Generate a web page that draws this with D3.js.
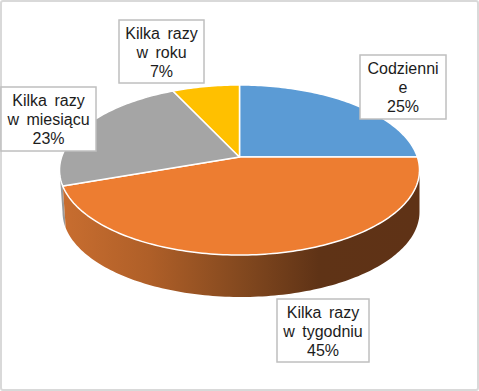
<!DOCTYPE html>
<html>
<head>
<meta charset="utf-8">
<script src="https://cdn.jsdelivr.net/npm/d3@7"></script>
<style>
  html, body { margin: 0; padding: 0; background: #fff; }
  svg { display: block; }
  text { font-family: "Liberation Sans", Arial, sans-serif; font-size: 16px; fill: #1c1c1c; word-spacing: 3px; }
</style>
</head>
<body>
<svg width="479" height="391"></svg>
<script>
var width = 479, height = 391;

// Chart values, clockwise from 12 o'clock. The labels show them rounded
var categories = ["Codziennie", "Kilka razy w tygodniu", "Kilka razy w miesiącu", "Kilka razy w roku"];
var values = [25, 44.6, 23.4, 7];
var colors = ["#5b9bd5", "#ed7d31", "#a5a5a5", "#ffc000"];

// Wrapped label lines, same order as categories
var labelLines = [
  ["Codzienni", "e", "25%"],
  ["Kilka razy", "w tygodniu", "45%"],
  ["Kilka razy", "w miesiącu", "23%"],
  ["Kilka razy", "w roku", "7%"]
];
// Label boxes were placed by hand in the original: [left, top, right, bottom]
var labelBoxes = [
  [360, 55, 446, 119],
  [277, 299, 369, 362],
  [1, 87, 96, 151],
  [119, 20, 204, 83]
];

var svg = d3.select("svg");

// The tilted disc: unit circle seen in perspective, so its centre sits above the ellipse centre
var x = d3.scaleLinear().domain([-1, 1]).range([59.5, 419.5]);
var y = d3.scaleLinear().domain([-1, 1]).range([85, 255]);
var tilt = -0.153;
var depth = 42;

// Bottom rim is a bit narrower on the left
var xBottom = d3.scaleLinear().domain([-1, 1]).range([62.5, 419.5]);

function project(angle, bottom) {
  var u = Math.sin(angle), v = -Math.cos(angle);
  var w = 1 + tilt * v;
  var px = u * Math.sqrt(1 - tilt * tilt) / w, py = (v + tilt) / w;
  return bottom ? [xBottom(px), y(py) + depth] : [x(px), y(py)];
}

function arcPoints(a0, a1, bottom) {
  var n = Math.max(2, Math.ceil((a1 - a0) / 0.02));
  return d3.range(n + 1).map(function(i) {
    return project(a0 + (a1 - a0) * i / n, bottom);
  });
}

var line = d3.line();
var slices = d3.pie().sort(null)(values);

// Side wall gradients, lit from the left
var defs = svg.append("defs");
function wallGradient(id, stops) {
  var g = defs.append("linearGradient").attr("id", id)
    .attr("gradientUnits", "userSpaceOnUse")
    .attr("x1", x(-1)).attr("x2", x(1)).attr("y1", 0).attr("y2", 0);
  stops.forEach(function(s) {
    g.append("stop").attr("offset", s[0]).attr("stop-color", s[1]);
  });
}
wallGradient("wall1", [[0, "#c96e30"], [0.25, "#af5f28"], [0.5, "#84491f"], [0.72, "#5f3316"], [1, "#5f3216"]]);
wallGradient("wall2", [[0, "#9a9a9a"], [1, "#6a6a6a"]]);

// Frame
svg.append("rect")
  .attr("x", 1).attr("y", 1)
  .attr("width", width - 2).attr("height", height - 2)
  .attr("rx", 2)
  .attr("fill", "#fff").attr("stroke", "#d9d9d9").attr("stroke-width", 2);

// Only the front half of the rim is visible
var frontStart = Math.acos(tilt), frontEnd = 2 * Math.PI - frontStart;

[2, 1].forEach(function(i) {
  var a0 = Math.max(slices[i].startAngle, frontStart);
  var a1 = Math.min(slices[i].endAngle, frontEnd);
  if (a1 <= a0) return;
  svg.append("path")
    .attr("d", line(arcPoints(a0, a1, false).concat(arcPoints(a0, a1, true).reverse())) + "Z")
    .attr("fill", "url(#wall" + i + ")");
});

// Top of the pie
var centre = [x(0), y(tilt)];

svg.selectAll("path.slice")
  .data(slices)
  .enter()
  .append("path")
  .attr("class", "slice")
  .attr("d", function(d) {
    return line([centre].concat(arcPoints(d.startAngle, d.endAngle, false))) + "Z";
  })
  .attr("fill", function(d, i) { return colors[i]; })
  .attr("stroke", "#fff")
  .attr("stroke-width", 1.5)
  .attr("stroke-linejoin", "round");

// Data labels
var labels = svg.selectAll("g.label")
  .data(categories)
  .enter()
  .append("g")
  .attr("class", "label");

labels.append("rect")
  .attr("x", function(d, i) { return labelBoxes[i][0]; })
  .attr("y", function(d, i) { return labelBoxes[i][1]; })
  .attr("width", function(d, i) { return labelBoxes[i][2] - labelBoxes[i][0]; })
  .attr("height", function(d, i) { return labelBoxes[i][3] - labelBoxes[i][1]; })
  .attr("fill", "#fff")
  .attr("stroke", "#bfbfbf")
  .attr("stroke-width", 1.5);

labels.each(function(d, i) {
  var box = labelBoxes[i];
  d3.select(this).selectAll("text")
    .data(labelLines[i])
    .enter()
    .append("text")
    .attr("x", (box[0] + box[2]) / 2)
    .attr("y", function(t, j) { return box[1] + 19 + j * 19; })
    .attr("text-anchor", "middle")
    .text(function(t) { return t; });
});
</script>
</body>
</html>
